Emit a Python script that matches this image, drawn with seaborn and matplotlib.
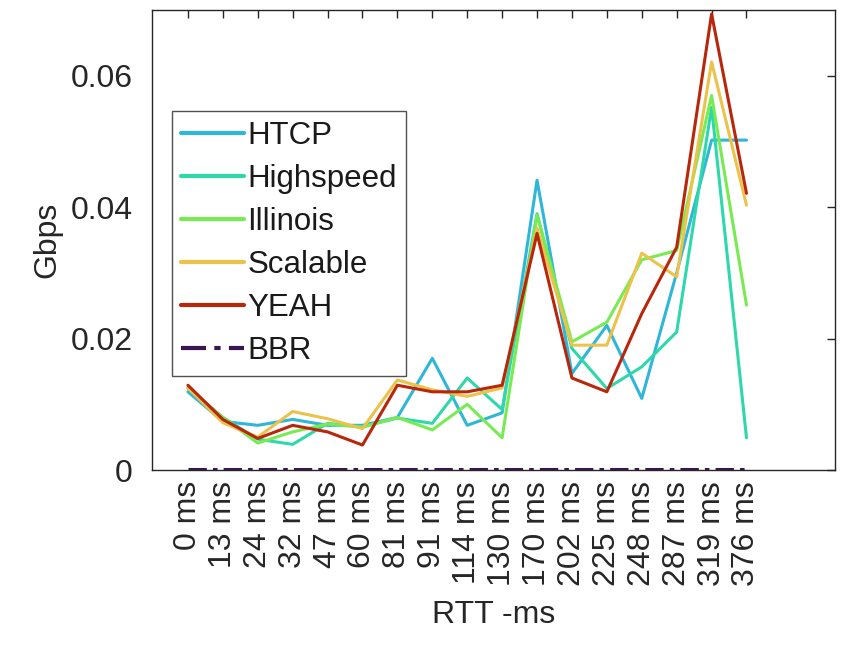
import numpy as np
import pandas as pd
import matplotlib
matplotlib.use("Agg")
import matplotlib.pyplot as plt
import seaborn as sns

# RTT categories (x axis)
rtt_labels = ["0 ms", "13 ms", "24 ms", "32 ms", "47 ms", "60 ms", "81 ms", "91 ms",
              "114 ms", "130 ms", "170 ms", "202 ms", "225 ms", "248 ms", "287 ms",
              "319 ms", "376 ms"]

# Throughput per congestion-control algorithm (Gbps)
htcp = [0.0119, 0.0074, 0.0068, 0.0077, 0.0068, 0.0068, 0.0080, 0.0170, 0.0068,
        0.0087, 0.0441, 0.0147, 0.0220, 0.0109, 0.0300, 0.0502, 0.0502]
highspeed = [0.0125, 0.0080, 0.0047, 0.0039, 0.0071, 0.0066, 0.0079, 0.0071, 0.0140,
             0.0092, 0.0390, 0.0185, 0.0124, 0.0157, 0.0210, 0.0552, 0.0049]
illinois = [0.0125, 0.0080, 0.0041, 0.0058, 0.0070, 0.0065, 0.0080, 0.0061, 0.0100,
            0.0049, 0.0388, 0.0195, 0.0225, 0.0320, 0.0334, 0.0570, 0.0251]
scalable = [0.0125, 0.0072, 0.0050, 0.0089, 0.0078, 0.0063, 0.0137, 0.0122, 0.0112,
            0.0125, 0.0368, 0.0190, 0.0190, 0.0330, 0.0294, 0.0621, 0.0403]
yeah = [0.0129, 0.0077, 0.0048, 0.0068, 0.0058, 0.0038, 0.0129, 0.0119, 0.0119,
        0.0129, 0.0360, 0.0140, 0.0119, 0.0238, 0.0339, 0.0694, 0.0421]
bbr = [0.0001] * 17

series_names = ["HTCP", "Highspeed", "Illinois", "Scalable", "YEAH", "BBR"]
series_values = [htcp, highspeed, illinois, scalable, yeah, bbr]
colors = ["#2FB6D8", "#2ED8AA", "#78EB52", "#EBC24A", "#B8270C", "#3A1650"]

rows = []
for name, vals in zip(series_names, series_values):
    for i, v in enumerate(vals):
        rows.append({"pos": i, "Gbps": v, "alg": name})
df = pd.DataFrame(rows)

sns.set_theme(style="white")
plt.rcParams["font.family"] = ["Liberation Sans", "DejaVu Sans"]

fig = plt.figure(figsize=(8.61, 6.45), dpi=100)
ax = fig.add_axes([0.1765, 0.2713, 0.7935, 0.7132])

sns.lineplot(data=df, x="pos", y="Gbps", hue="alg", style="alg",
             hue_order=series_names, style_order=series_names,
             palette=dict(zip(series_names, colors)),
             dashes={n: ((6, 2, 1.5, 2) if n == "BBR" else "") for n in series_names},
             linewidth=2.2, sort=False, ax=ax, legend=True)

ax.set_xlim(-1.03, 18.54)
ax.set_ylim(0, 0.07)
ax.set_yticks([0, 0.02, 0.04, 0.06])
ax.set_yticklabels(["0", "0.02", "0.04", "0.06"])
ax.set_xticks(range(len(rtt_labels)))
ax.set_xticklabels(rtt_labels, rotation=90)

ax.tick_params(axis="both", which="both", direction="in", length=6, width=1,
               colors="#262626", labelsize=23, top=True, right=True,
               labelcolor="#262626")
ax.tick_params(axis="y", pad=14)
ax.tick_params(axis="x", pad=8)
for s in ax.spines.values():
    s.set_color("#262626")
    s.set_linewidth(1.0)

ax.set_xlabel("RTT -ms", fontsize=23, color="#262626", labelpad=10)
ax.set_ylabel("Gbps", fontsize=23, color="#262626", labelpad=6)

leg = ax.legend(loc="upper left", bbox_to_anchor=(0.029, 0.780), borderaxespad=0,
                fontsize=22.5, frameon=True, fancybox=False, handlelength=2.0,
                handletextpad=0.12, labelspacing=0.42, borderpad=0.3)
leg.get_frame().set_edgecolor("#262626")
leg.get_frame().set_linewidth(1.0)
for t in leg.get_texts():
    t.set_color("#1a1a1a")
for h in leg.get_lines():
    h.set_linewidth(3)

fig.savefig("out.png", dpi=100, facecolor="white")
